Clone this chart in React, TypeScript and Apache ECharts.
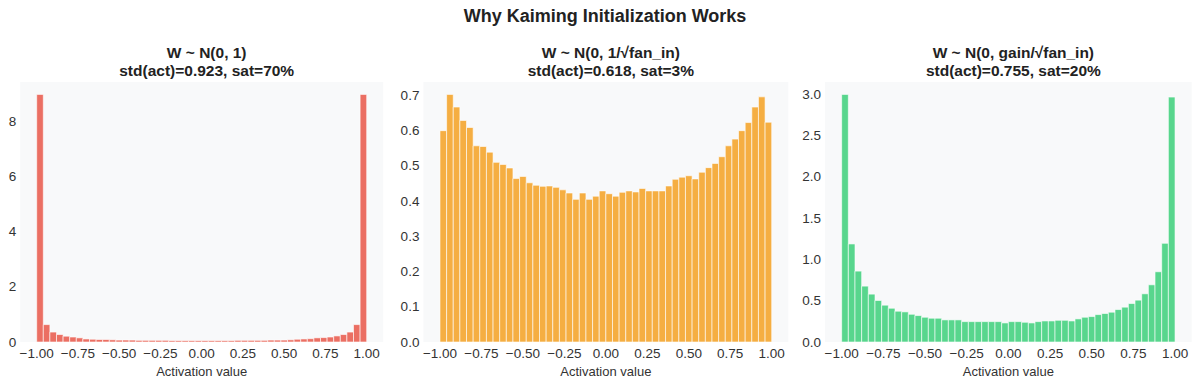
import React, { useEffect, useRef } from "react";
import * as echarts from "echarts";

const binEdgesStart = -1;
const binWidth = 0.04;

const panelTitles = [
  "W ~ N(0, 1)\nstd(act)=0.923, sat=70%",
  "W ~ N(0, 1/\u221Afan_in)\nstd(act)=0.618, sat=3%",
  "W ~ N(0, gain/\u221Afan_in)\nstd(act)=0.755, sat=20%",
];

const redDensity = [
  8.97, 0.63, 0.36, 0.27, 0.21, 0.18, 0.15, 0.11, 0.1, 0.09,
  0.09, 0.08, 0.07, 0.07, 0.07, 0.06, 0.06, 0.06, 0.06, 0.06,
  0.05, 0.05, 0.05, 0.05, 0.05, 0.05, 0.05, 0.05, 0.05, 0.05,
  0.06, 0.06, 0.06, 0.06, 0.06, 0.07, 0.07, 0.07, 0.08, 0.1,
  0.11, 0.12, 0.15, 0.16, 0.18, 0.22, 0.27, 0.36, 0.63, 8.97,
];

const orangeDensity = [
  0.600, 0.703, 0.667, 0.629, 0.609, 0.557, 0.555, 0.539, 0.510, 0.504,
  0.494, 0.464, 0.470, 0.452, 0.445, 0.442, 0.443, 0.439, 0.432, 0.423,
  0.405, 0.423, 0.405, 0.414, 0.429, 0.421, 0.414, 0.425, 0.429, 0.426,
  0.436, 0.429, 0.429, 0.429, 0.443, 0.462, 0.468, 0.472, 0.463, 0.482,
  0.495, 0.507, 0.526, 0.557, 0.576, 0.600, 0.623, 0.667, 0.696, 0.624,
];

const greenDensity = [
  3.0, 1.188, 0.859, 0.677, 0.580, 0.503, 0.446, 0.409, 0.373, 0.365,
  0.336, 0.320, 0.300, 0.288, 0.288, 0.268, 0.268, 0.268, 0.247, 0.247,
  0.247, 0.247, 0.247, 0.247, 0.231, 0.247, 0.247, 0.239, 0.231, 0.247,
  0.255, 0.255, 0.263, 0.263, 0.255, 0.280, 0.300, 0.308, 0.332, 0.345,
  0.361, 0.393, 0.422, 0.466, 0.507, 0.584, 0.693, 0.851, 1.196, 2.967,
];

const xTicks = [-1, -0.75, -0.5, -0.25, 0, 0.25, 0.5, 0.75, 1];
const yTicks1 = [0, 2, 4, 6, 8];
const yTicks2 = [0, 0.1, 0.2, 0.3, 0.4, 0.5, 0.6, 0.7];
const yTicks3 = [0, 0.5, 1.0, 1.5, 2.0, 2.5, 3.0];

const colors = ["#eb6f63", "#f5ae42", "#58d68d"];

export default function App() {
  const ref = useRef<HTMLDivElement>(null);

  useEffect(() => {
    if (!ref.current) return;
    const chart = echarts.init(ref.current, null, { renderer: "svg" });
    const font = "'Liberation Sans', Arial, sans-serif";
    const grids = [
      { left: 20.2, width: 363, top: 82, height: 260 },
      { left: 423.4, width: 364.9, top: 82, height: 260 },
      { left: 825, width: 366.7, top: 82, height: 260 },
    ];
    const datasets = [redDensity, orangeDensity, greenDensity];
    const yTicks = [yTicks1, yTicks2, yTicks3];
    const yDecimals = [0, 1, 1];
    const maxes = [8.97, 0.703, 3.0];

    const option: any = {
      animation: false,
      backgroundColor: "#ffffff",
      title: [
        {
          text: "Why Kaiming Initialization Works",
          left: 600,
          top: 2,
          textAlign: "center",
          textStyle: { fontFamily: font, fontSize: 18, fontWeight: "bold", color: "#222" },
        },
        ...panelTitles.map((t, i) => ({
          text: t,
          left: grids[i].left + grids[i].width / 2,
          top: 38,
          textAlign: "center",
          textStyle: {
            fontFamily: font,
            fontSize: 15.5,
            fontWeight: "bold",
            color: "#222",
            lineHeight: 18,
          },
        })),
      ],
      grid: grids.map((g) => ({
        ...g,
        show: true,
        backgroundColor: "#f8f9fa",
        borderWidth: 0,
      })),
      xAxis: grids.map((_, i) => ({
        type: "value",
        gridIndex: i,
        min: -1.1,
        max: 1.1,
        name: "Activation value",
        nameLocation: "middle",
        nameGap: 22,
        nameTextStyle: { fontFamily: font, fontSize: 13, color: "#333" },
        axisLine: { show: false },
        axisTick: { show: false, customValues: xTicks },
        splitLine: { show: false },
        axisLabel: {
          customValues: xTicks,
          formatter: (v: number) => (v < 0 ? "\u2212" + Math.abs(v).toFixed(2) : v.toFixed(2)),
          fontFamily: font,
          fontSize: 13.5,
          color: "#333",
          margin: 4,
        },
      })),
      yAxis: grids.map((_, i) => ({
        type: "value",
        gridIndex: i,
        min: 0,
        max: maxes[i] * 1.05,
        axisLine: { show: false },
        axisTick: { show: false, customValues: yTicks[i] },
        splitLine: { show: false },
        axisLabel: {
          customValues: yTicks[i],
          formatter: (v: number) => v.toFixed(yDecimals[i]),
          fontFamily: font,
          fontSize: 13.5,
          color: "#333",
          margin: 4,
        },
      })),
      series: datasets.map((d, i) => ({
        type: "custom",
        xAxisIndex: i,
        yAxisIndex: i,
        data: d.map((h, k) => [binEdgesStart + k * binWidth, binEdgesStart + (k + 1) * binWidth, h]),
        encode: { x: [0, 1], y: 2 },
        renderItem: (params: any, api: any) => {
          const p0 = api.coord([api.value(0), 0]);
          const p1 = api.coord([api.value(1), api.value(2)]);
          return {
            type: "rect",
            shape: { x: p0[0], y: p1[1], width: p1[0] - p0[0], height: p0[1] - p1[1] },
            style: { fill: colors[i], stroke: "#ffffff", lineWidth: 0.6 },
          };
        },
      })),
    };
    chart.setOption(option);
    return () => chart.dispose();
  }, []);

  return (
    <div
      ref={ref}
      style={{ position: "fixed", left: 0, top: 0, width: 1200, height: 386 }}
    />
  );
}
